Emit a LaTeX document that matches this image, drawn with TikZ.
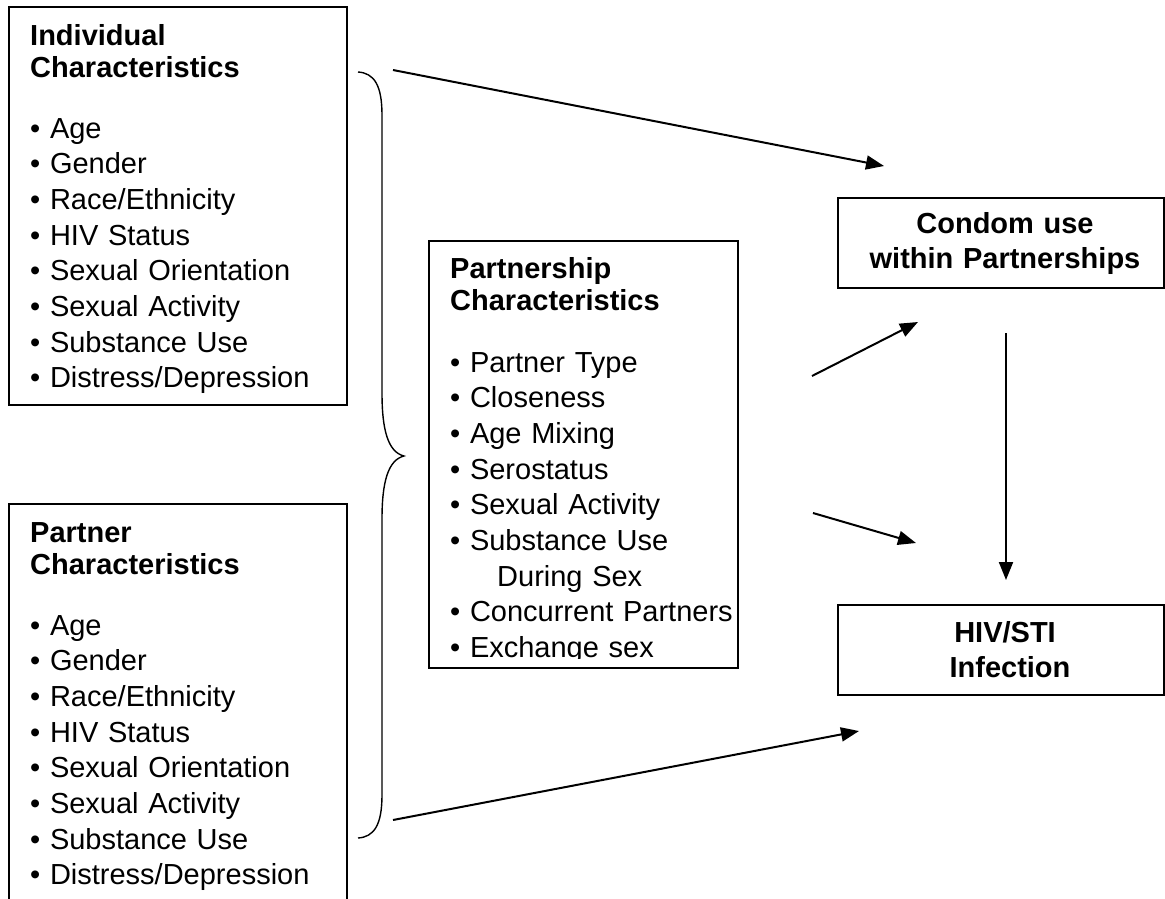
\documentclass[tikz,border=0pt]{standalone}
\usepackage{fontspec}
\setmainfont{Liberation Sans}
\usetikzlibrary{arrows.meta}
\begin{document}
\begin{tikzpicture}[x=1pt,y=-1pt,
  box/.style={draw, line width=1.7pt, rectangle, inner sep=0pt, anchor=north west},
  head/.style={anchor=base west, inner sep=0pt, text width=320pt, align=left,
    font=\bfseries\fontsize{29}{32.5}\selectfont},
  items/.style={anchor=base west, inner sep=0pt, text width=320pt, align=left,
    font=\fontsize{29}{35.7}\selectfont},
  ctext/.style={anchor=base, inner sep=0pt, text width=330pt, align=center,
    font=\bfseries\fontsize{29}{35}\selectfont},
  arr/.style={line width=2pt, -{Triangle[length=18pt,width=14pt]}},
  bracestyle/.style={line width=1.4pt}
]
\useasboundingbox (0,0) rectangle (1165,898);
\clip (0,0) rectangle (1165,898);

% Individual characteristics
\node[box, minimum width=338pt, minimum height=398pt] (indiv) at (8,6) {};
\node[head] (indivh) at (30,45) {Individual\\Characteristics};
\node[items] (indivl) at (30,138) {• Age\\• Gender\\• Race/Ethnicity\\• HIV Status\\• Sexual Orientation\\• Sexual Activity\\• Substance Use\\• Distress/Depression};

% Partner characteristics
\node[box, minimum width=338pt, minimum height=420pt] (partner) at (8,503) {};
\node[head] (partnerh) at (30,542) {Partner\\Characteristics};
\node[items] (partnerl) at (30,635) {• Age\\• Gender\\• Race/Ethnicity\\• HIV Status\\• Sexual Orientation\\• Sexual Activity\\• Substance Use\\• Distress/Depression};

% Partnership characteristics
\node[box, minimum width=309pt, minimum height=427pt] (pship) at (428,240) {};
\begin{scope}
\clip (428,240) rectangle (737,658);
\node[head] (pshiph) at (450,278) {Partnership\\Characteristics};
\node[items] (pshipl) at (450,372) {• Partner Type\\• Closeness\\• Age Mixing\\• Serostatus\\• Sexual Activity\\• Substance Use\\\hspace*{47pt}During Sex\\• Concurrent Partners\\• Exchange sex};
\end{scope}

% Outcome boxes
\node[box, minimum width=326pt, minimum height=90pt] (condom) at (837,197) {};
\node[ctext] (condomt) at (1005,233) {Condom use\\within Partnerships};
\node[box, minimum width=326pt, minimum height=90pt] (hiv) at (837,604) {};
\node[ctext] (hivt) at (1005,642) {HIV/STI\\\hspace*{10pt}Infection};

% Brace
\draw[bracestyle] (358,72) .. controls (374,73) and (382,85) .. (382,115) -- (382,393)
  .. controls (382,430) and (388,452) .. (404,456)
  .. controls (388,460) and (382,482) .. (382,519) -- (382,795)
  .. controls (382,825) and (374,837) .. (358,838);

% Arrow end points
\coordinate (a1s) at (393,70);
\coordinate (a1e) at (884,166);
\coordinate (a2s) at (812,376);
\coordinate (a2e) at (918,322);
\coordinate (a3s) at (813,513);
\coordinate (a3e) at (916,543);
\coordinate (a4s) at (393,820);
\coordinate (a4e) at (859,731);
\coordinate (a5s) at (1006,333);
\coordinate (a5e) at (1006,580);

\draw[arr] (a1s) -- (a1e);
\draw[arr] (a2s) -- (a2e);
\draw[arr] (a3s) -- (a3e);
\draw[arr] (a4s) -- (a4e);
\draw[arr] (a5s) -- (a5e);
\end{tikzpicture}
\end{document}
